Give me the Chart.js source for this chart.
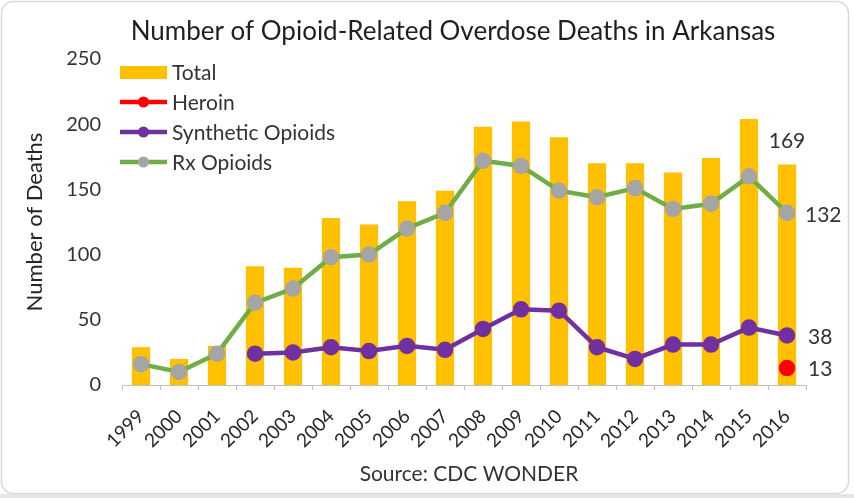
<!DOCTYPE html>
<html>
<head>
<meta charset="utf-8">
<script src="https://cdn.jsdelivr.net/npm/chart.js@4.4.0/dist/chart.umd.min.js"></script>
<style>
  html, body { margin: 0; padding: 0; background: #ffffff; }
  #wrap { width: 854px; height: 498px; position: relative; }
</style>
</head>
<body>
<div id="wrap"><canvas id="c" width="854" height="498"></canvas></div>
<script>
const years = ['1999','2000','2001','2002','2003','2004','2005','2006','2007','2008','2009','2010','2011','2012','2013','2014','2015','2016'];
const totalDeaths = [29, 20, 30, 91, 90, 128, 123, 141, 149, 198, 202, 190, 170, 170, 163, 174, 204, 169];
const heroinDeaths = [null, null, null, null, null, null, null, null, null, null, null, null, null, null, null, null, null, 13];
const syntheticDeaths = [null, null, null, 24, 25, 29, 26, 30, 27, 43, 58, 57, 29, 20, 31, 31, 44, 38];
const rxDeaths = [16, 10, 24, 63, 74, 98, 100, 120, 132, 172, 168, 149, 144, 151, 135, 139, 160, 132];
const yTicks = [0, 50, 100, 150, 200, 250];

const FONT = 'Lato, "Open Sans", sans-serif';
const TXT = '#333333';

const extras = {
  id: 'extras',
  beforeDraw(chart) {
    const ctx = chart.ctx;
    ctx.save();
    ctx.fillStyle = '#ffffff';
    ctx.fillRect(0, 0, chart.width, chart.height);
    ctx.fillStyle = '#e6e6e6';
    ctx.fillRect(0, 494, chart.width, 4);
    ctx.beginPath();
    ctx.roundRect(1.5, 1.5, 847, 492, 12);
    ctx.fillStyle = '#ffffff';
    ctx.fill();
    ctx.strokeStyle = '#d9d9d9';
    ctx.lineWidth = 1.5;
    ctx.stroke();
    ctx.restore();
  },
  afterDraw(chart) {
    const ctx = chart.ctx;
    ctx.save();
    // title
    ctx.fillStyle = '#1f1f1f';
    ctx.font = '26px ' + FONT;
    ctx.textAlign = 'center';
    ctx.textBaseline = 'middle';
    ctx.fillText('Number of Opioid-Related Overdose Deaths in Arkansas', 453, 32);
    // source
    ctx.fillStyle = TXT;
    ctx.font = '21px ' + FONT;
    ctx.fillText('Source: CDC WONDER', 469, 474);

    // legend
    const ds = chart.data.datasets;
    const rows = [72, 102, 132, 162];
    ctx.font = '21px ' + FONT;
    ctx.textAlign = 'left';
    ds.forEach((d, i) => {
      const y = rows[i];
      if (d.type === 'bar') {
        ctx.fillStyle = d.backgroundColor;
        ctx.fillRect(120, y - 6, 47, 13);
      } else {
        ctx.strokeStyle = d.borderColor;
        ctx.lineWidth = 4.5;
        ctx.beginPath();
        ctx.moveTo(120, y);
        ctx.lineTo(167, y);
        ctx.stroke();
        ctx.beginPath();
        ctx.arc(143.5, y, 5.5, 0, Math.PI * 2);
        ctx.fillStyle = d.pointBackgroundColor;
        ctx.fill();
      }
      ctx.fillStyle = TXT;
      ctx.fillText(d.label, 172, y + 1);
    });

    // end-value labels
    const xs = chart.scales.x, ys = chart.scales.y;
    const last = years.length - 1;
    const xp = xs.getPixelForValue(last);
    ctx.font = '21px ' + FONT;
    ctx.fillStyle = TXT;
    ctx.textAlign = 'center';
    ctx.fillText(String(totalDeaths[last]), xp, ys.getPixelForValue(totalDeaths[last]) - 23);
    ctx.textAlign = 'left';
    ctx.fillText(String(rxDeaths[last]), xp + 18, ys.getPixelForValue(rxDeaths[last]) + 2);
    ctx.fillText(String(syntheticDeaths[last]), xp + 21, ys.getPixelForValue(syntheticDeaths[last]) + 2);
    ctx.fillText(String(heroinDeaths[last]), xp + 21, ys.getPixelForValue(heroinDeaths[last]) + 1);
    ctx.restore();
  }
};

new Chart(document.getElementById('c'), {
  data: {
    labels: years,
    datasets: [
      { type: 'bar', label: 'Total', data: totalDeaths, backgroundColor: '#FFC000', barPercentage: 0.48, categoryPercentage: 1, order: 10 },
      { type: 'line', label: 'Heroin', data: heroinDeaths, borderColor: '#FF0000', backgroundColor: '#FF0000', pointBackgroundColor: '#FF0000', pointBorderColor: '#FF0000', borderWidth: 4.5, pointRadius: 6, order: 3 },
      { type: 'line', label: 'Synthetic Opioids', data: syntheticDeaths, borderColor: '#7030A0', backgroundColor: '#7030A0', pointBackgroundColor: '#7030A0', pointBorderColor: '#7030A0', borderWidth: 4.5, pointRadius: 6, order: 2 },
      { type: 'line', label: 'Rx Opioids', data: rxDeaths, borderColor: '#70AD47', backgroundColor: '#A5A5A5', pointBackgroundColor: '#A5A5A5', pointBorderColor: '#A5A5A5', borderWidth: 4.5, pointRadius: 6, order: 1 }
    ]
  },
  options: {
    responsive: false,
    animation: false,
    devicePixelRatio: 1,
    layout: { padding: { left: 0, right: 48, top: 59, bottom: 0 } },
    plugins: { legend: { display: false }, title: { display: false }, tooltip: { enabled: false } },
    scales: {
      x: {
        offset: true,
        grid: { display: true, drawOnChartArea: false, drawTicks: true, tickLength: 5, color: '#BFBFBF', offset: true },
        border: { display: true, color: '#BFBFBF', width: 1 },
        ticks: { minRotation: 45, maxRotation: 45, color: '#262626', font: { family: FONT, size: 19 }, padding: 15, autoSkip: false },
        afterFit: s => { s.height = 113; }
      },
      y: {
        min: 0, max: 250,
        afterBuildTicks: s => { s.ticks = yTicks.map(v => ({ value: v })); },
        grid: { display: false, drawTicks: false },
        border: { display: false },
        ticks: { color: TXT, font: { family: FONT, size: 20 }, padding: 21 },
        title: { display: true, text: 'Number of Deaths', color: '#262626', font: { family: FONT, size: 22 }, padding: { top: 22, bottom: 0 } },
        afterFit: s => { s.width = 122; }
      }
    }
  },
  plugins: [extras]
});
</script>
</body>
</html>
